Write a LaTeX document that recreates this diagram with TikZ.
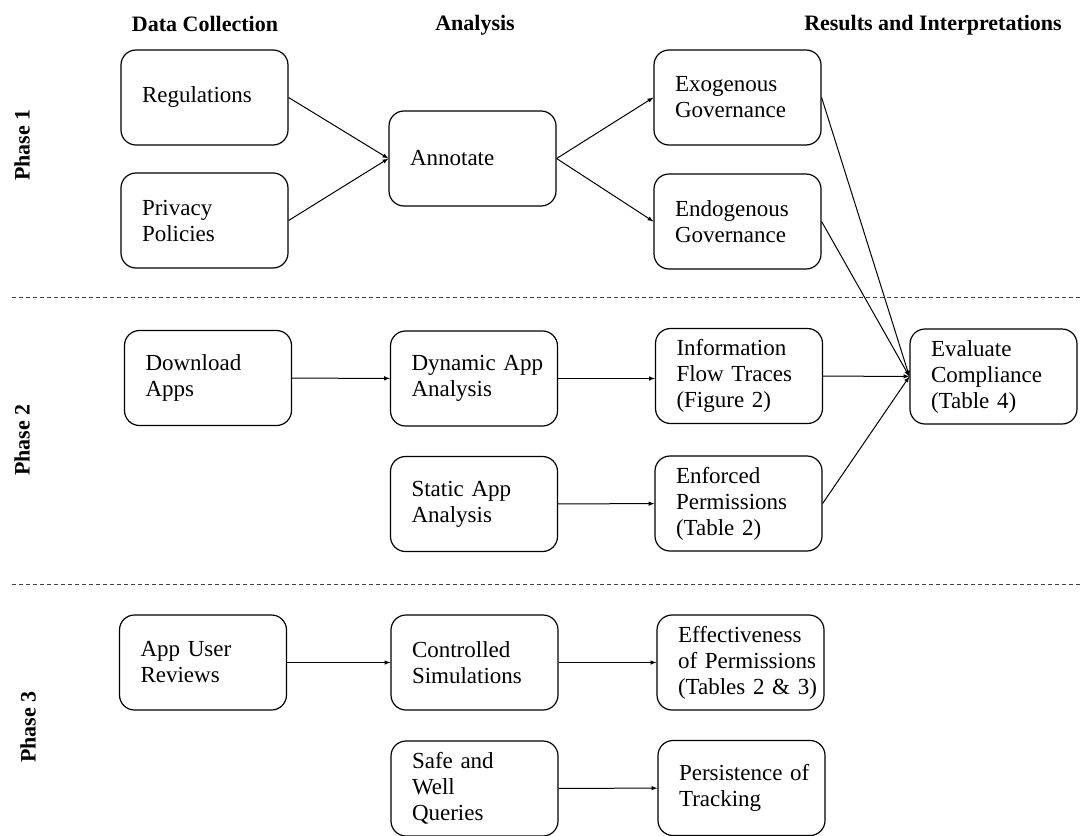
\documentclass[tikz,border=0pt]{standalone}
\usepackage{fontspec}
\setmainfont{Liberation Serif}
\usetikzlibrary{positioning}
\usetikzlibrary{arrows}
\hyphenpenalty=10000
\exhyphenpenalty=10000
\tikzstyle{step box} = [draw, line width=1.2pt, rounded corners=15pt, align=left,
  text width=125pt, inner xsep=21pt, minimum height=95pt, font=\fontsize{23}{26}\selectfont]
\tikzstyle{link} = [->, >=latex, draw, line width=1pt]
\tikzstyle{heading} = [font=\fontsize{22}{26}\selectfont\bfseries]
\tikzstyle{phase} = [heading, rotate=90]
\tikzstyle{divider} = [draw, line width=1pt, dash pattern=on 4pt off 3pt, black!75]

\begin{document}
\begin{tikzpicture}[x=1pt,y=-1pt]
  \useasboundingbox (0,0) rectangle (1081,835);
  % column headings
  \node[heading] (hdata) at (205,24) {Data Collection};
  \node[heading] (hanal) at (475,25) {Analysis};
  \node[heading] (hres) at (933,25) {Results and Interpretations};
  % phases
  \node[phase] (p1) at (22,145) {Phase 1};
  \node[phase] (p2) at (22,440) {Phase 2};
  \node[phase] (p3) at (28,727) {Phase 3};
  \coordinate (d1a) at (12,297); \coordinate (d1b) at (1081,297);
  \coordinate (d2a) at (12,584); \coordinate (d2b) at (1081,584);
  \draw[divider] (d1a) -- (d1b);
  \draw[divider] (d2a) -- (d2b);

  % phase 1
  \node[step box] (reg) at (204.5,97.5) {Regulations};
  \node[step box] (priv) at (204.5,220.5) {Privacy\\Policies};
  \node[step box] (annot) at (472.5,158.5) {Annotate};
  \node[step box] (exo) at (737.5,97.5) {Exogenous\\Governance};
  \node[step box] (endo) at (737.5,221.5) {Endogenous\\Governance};
  % phase 2
  \node[step box] (download) at (208,378) {Download\\Apps};
  \node[step box] (dynamic) at (474,378.5) {Dynamic~App\\Analysis};
  \node[step box] (flow) at (739,376) {Information\\Flow~Traces\\(Figure~2)};
  \node[step box] (eval) at (993.5,376.5) {Evaluate\\Compliance\\(Table~4)};
  \node[step box] (static) at (474,504) {Static~App\\Analysis};
  \node[step box] (enforced) at (738.5,503.5) {Enforced\\Permissions\\(Table~2)};
  % phase 3
  \node[step box] (reviews) at (203,662.5) {App~User\\Reviews};
  \node[step box] (controlled) at (474.5,662.5) {Controlled\\Simulations};
  \node[step box] (effect) at (740.5,662.5) {Effectiveness\\of~Permissions\\(Tables~2~\&~3)};
  \node[step box] (safe) at (474.5,788.5) {Safe~and\\Well\\Queries};
  \node[step box] (persist) at (741.5,788) {Persistence~of\\Tracking};

  \draw[link] (reg.east) -- (annot.west);
  \draw[link] (priv.east) -- (annot.west);
  \draw[link] (annot.east) -- (exo.west);
  \draw[link] (annot.east) -- (endo.west);
  \draw[link] (exo.east) -- (eval.west);
  \draw[link] (endo.east) -- (eval.west);
  \draw[link] (download) -- (dynamic);
  \draw[link] (dynamic.east) -- (flow.west |- dynamic.east);
  \draw[link] (flow) -- (eval);
  \draw[link] (static) -- (enforced);
  \draw[link] (enforced.east) -- (eval.west);
  \draw[link] (reviews) -- (controlled);
  \draw[link] (controlled) -- (effect);
  \draw[link] (safe) -- (persist);
\end{tikzpicture}
\end{document}
